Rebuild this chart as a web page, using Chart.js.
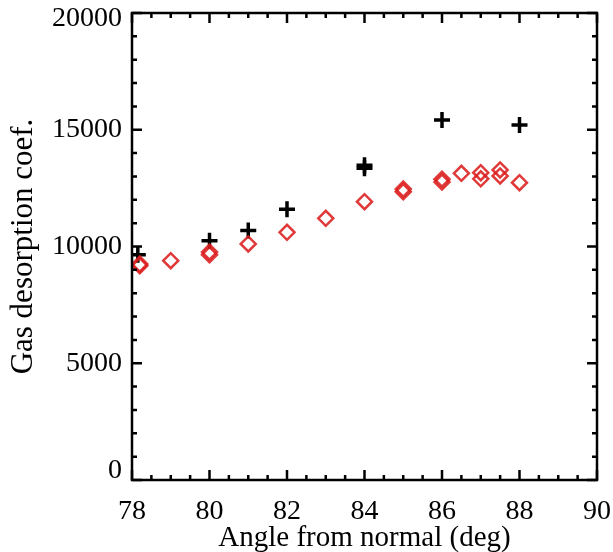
<!DOCTYPE html>
<html><head><meta charset="utf-8">
<script src="https://cdn.jsdelivr.net/npm/chart.js@4/dist/chart.umd.min.js"></script>
<style>html,body{margin:0;padding:0;background:#fff;}#wrap{width:613px;height:552px;}</style>
</head><body><div id="wrap"><canvas id="c" width="613" height="552"></canvas></div>
<script>
const crossX = [78.15, 80, 81, 82, 84, 84, 86, 88];
const crossY = [9650, 10250, 10680, 11595, 13350, 13480, 15420, 15205];
const diamondX = [78.2, 78.2, 79, 80, 80, 81, 82, 83, 84, 85, 85, 86, 86, 86.5, 87, 87, 87.5, 87.5, 88];
const diamondY = [9180, 9250, 9393, 9650, 9760, 10108, 10609, 11208, 11920, 12350, 12460, 12760, 12880, 13136, 13163, 12900, 13277, 13020, 12734];
const xTicks = [78, 80, 82, 84, 86, 88, 90];
const yTicks = [0, 5000, 10000, 15000, 20000];
const xTitle = 'Angle from normal (deg)';
const yTitle = 'Gas desorption coef.';

const font = 'Liberation Serif';

const frame = {
  id: 'frame',
  afterDatasetsDraw(chart) {
    const {ctx, scales: {x, y}} = chart;
    const L = x.getPixelForValue(78), R = x.getPixelForValue(90);
    const T = y.getPixelForValue(20000), B = y.getPixelForValue(0);
    ctx.save();
    ctx.strokeStyle = '#000';
    ctx.lineWidth = 2.5;
    ctx.strokeRect(L, T, R - L, B - T);
    for (let v = 78; v <= 90.001; v += 0.5) {
      const px = x.getPixelForValue(v);
      const major = Math.abs(v - Math.round(v / 2) * 2) < 1e-6;
      const len = major ? 10 : 5;
      ctx.beginPath();
      ctx.moveTo(px, B); ctx.lineTo(px, B - len);
      ctx.moveTo(px, T); ctx.lineTo(px, T + len);
      ctx.stroke();
    }
    for (let v = 0; v <= 20000; v += 1000) {
      const py = y.getPixelForValue(v);
      const len = (v % 5000 === 0) ? 10 : 5;
      ctx.beginPath();
      ctx.moveTo(L, py); ctx.lineTo(L + len, py);
      ctx.moveTo(R, py); ctx.lineTo(R - len, py);
      ctx.stroke();
    }
    // y tick labels, kept inside the axis span at the ends
    ctx.fillStyle = '#000';
    ctx.font = '28px "' + font + '"';
    ctx.textAlign = 'right';
    ctx.textBaseline = 'middle';
    yTicks.forEach(v => {
      let py = y.getPixelForValue(v);
      py = Math.min(Math.max(py, T + 6), B - 9);
      ctx.fillText(String(v), L - 10, py);
    });
    ctx.restore();
  }
};

new Chart(document.getElementById('c'), {
  type: 'scatter',
  data: {
    datasets: [
      {
        label: 'diamonds',
        data: diamondX.map((v, i) => ({x: v, y: diamondY[i]})),
        pointStyle: 'rectRot',
        pointRadius: 7.5,
        borderWidth: 2.5,
        borderColor: 'rgba(220,30,30,0.88)',
        backgroundColor: 'rgba(255,255,255,0)'
      },
      {
        label: 'crosses',
        data: crossX.map((v, i) => ({x: v, y: crossY[i]})),
        pointStyle: 'cross',
        pointRadius: 8,
        borderWidth: 3.5,
        borderColor: '#000',
        backgroundColor: '#000'
      }
    ]
  },
  options: {
    responsive: false,
    animation: false,
    events: [],
    layout: {padding: {left: 0, right: 16, top: 13, bottom: 0}},
    plugins: {legend: {display: false}, tooltip: {enabled: false}},
    scales: {
      x: {
        type: 'linear', min: 78, max: 90,
        afterBuildTicks: s => { s.ticks = xTicks.map(v => ({value: v})); },
        afterFit: s => { s.height = 72; s.paddingLeft = 0; s.paddingRight = 0; },
        grid: {display: false, drawTicks: false},
        border: {display: false},
        ticks: {color: '#000', font: {family: font, size: 28}, padding: 15, maxRotation: 0,
                callback: v => String(v)},
        title: {display: true, text: xTitle, color: '#000', font: {family: font, size: 29}, padding: {top: 0, bottom: -4}}
      },
      y: {
        type: 'linear', min: 0, max: 20000,
        afterBuildTicks: s => { s.ticks = yTicks.map(v => ({value: v})); },
        afterFit: s => { s.width = 132; s.paddingTop = 0; s.paddingBottom = 0; },
        grid: {display: false, drawTicks: false},
        border: {display: false},
        ticks: {display: false},
        title: {display: true, text: yTitle, color: '#000', font: {family: font, size: 31}, padding: {top: 5, bottom: 0}}
      }
    }
  },
  plugins: [frame]
});
</script>
</body></html>
